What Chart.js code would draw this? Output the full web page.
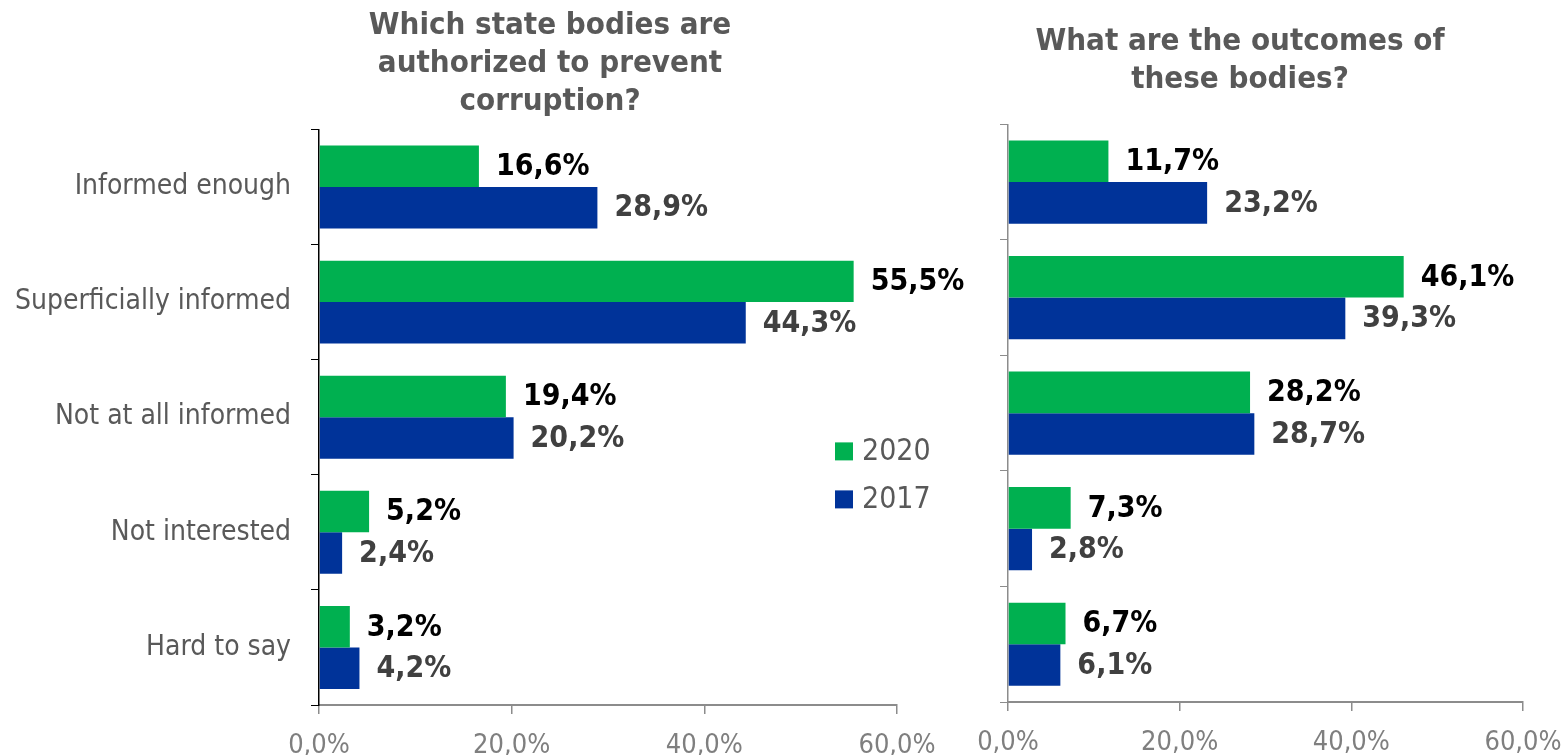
<!DOCTYPE html>
<html>
<head>
<meta charset="utf-8">
<script src="https://cdn.jsdelivr.net/npm/chart.js@4.4.1/dist/chart.umd.min.js"></script>
<style>
  body { margin: 0; background: #fff; width: 1564px; height: 755px; overflow: hidden; position: relative; }
  .box { position: absolute; top: 0; height: 755px; }
  #leftBox { left: 0; width: 1100px; }
  #rightBox { left: 920px; width: 660px; }
</style>
</head>
<body>
<div class="box" id="leftBox"><canvas id="leftChart"></canvas></div>
<div class="box" id="rightBox"><canvas id="rightChart"></canvas></div>
<script>
// survey answers, shares in %
const categories = ['Informed enough', 'Superficially informed', 'Not at all informed', 'Not interested', 'Hard to say'];
const seriesNames = ['2020', '2017'];
const bodies2020 = [16.6, 55.5, 19.4, 5.2, 3.2];
const bodies2017 = [28.9, 44.3, 20.2, 2.4, 4.2];
const outcomes2020 = [11.7, 46.1, 28.2, 7.3, 6.7];
const outcomes2017 = [23.2, 39.3, 28.7, 2.8, 6.1];
const xTicks = [0, 20, 40, 60];

const leftTitle = ['Which state bodies are', 'authorized to prevent', 'corruption?'];
const rightTitle = ['What are the outcomes of', 'these bodies?'];

const FONT = "'DejaVu Sans Condensed', 'DejaVu Sans', sans-serif";
const GREEN = '#00b050';
const BLUE = '#003399';
const labelColors = ['#000000', '#404040'];

const pct = v => v.toFixed(1).replace('.', ',') + '%';

// value text at the end of every bar
const barLabels = {
  id: 'barLabels',
  afterDatasetsDraw(chart) {
    const ctx = chart.ctx;
    ctx.save();
    ctx.font = 'bold 30px ' + FONT;
    ctx.textAlign = 'left';
    ctx.textBaseline = 'middle';
    chart.data.datasets.forEach((ds, i) => {
      ctx.fillStyle = labelColors[i];
      chart.getDatasetMeta(i).data.forEach((bar, j) => {
        ctx.fillText(pct(ds.data[j]), bar.x + 17, bar.y + 1);
      });
    });
    ctx.restore();
  }
};

// legend placed inside the plot area
const innerLegend = {
  id: 'innerLegend',
  afterDraw(chart, args, opts) {
    if (!opts.show) return;
    const ctx = chart.ctx;
    const a = chart.chartArea;
    ctx.save();
    ctx.font = '30px ' + FONT;
    ctx.textBaseline = 'middle';
    chart.data.datasets.forEach((ds, i) => {
      const x = a.left + opts.x;
      const y = a.top + opts.y + i * opts.gap;
      ctx.fillStyle = ds.backgroundColor;
      ctx.fillRect(x, y - 9, 18, 18);
      ctx.fillStyle = '#595959';
      ctx.fillText(ds.label, x + 27, y + 1);
    });
    ctx.restore();
  }
};

// widen the title box so the heading centres over its own span
const titleSpan = {
  id: 'titleSpan',
  afterLayout(chart, args, opts) {
    const t = chart.titleBlock;
    if (t && opts.right) {
      t.left = opts.left;
      t.right = opts.right;
    }
  }
};

function makeChart(id, d2020, d2017, title, o) {
  return new Chart(document.getElementById(id), {
    type: 'bar',
    data: {
      labels: categories,
      datasets: [
        { label: seriesNames[0], data: d2020, backgroundColor: GREEN },
        { label: seriesNames[1], data: d2017, backgroundColor: BLUE }
      ]
    },
    options: {
      indexAxis: 'y',
      responsive: true,
      maintainAspectRatio: false,
      animation: false,
      categoryPercentage: 0.72,
      barPercentage: 1.0,
      layout: { padding: { left: 0, right: o.padRight, top: 0, bottom: 0 } },
      plugins: {
        legend: { display: false },
        tooltip: { enabled: false },
        title: {
          display: true,
          text: title,
          color: '#595959',
          font: { family: FONT, size: 31, weight: 'bold', lineHeight: 1.23 },
          padding: o.titlePad
        },
        titleSpan: o.titleSpan,
        innerLegend: o.legend
      },
      scales: {
        x: {
          min: 0,
          max: 60,
          afterBuildTicks: s => { s.ticks = xTicks.map(v => ({ value: v })); },
          afterFit: s => { s.height = o.xHeight; },
          border: { color: '#8c8c8c', width: 2 },
          grid: { drawOnChartArea: false, color: '#8c8c8c', tickLength: 9, lineWidth: 1.5 },
          ticks: {
            color: '#7f7f7f',
            padding: 16,
            font: { family: FONT, size: 27 },
            callback: v => pct(v)
          }
        },
        y: {
          afterFit: s => { s.width = o.yWidth; },
          border: { color: o.axisColor, width: 1.5 },
          grid: { offset: true, drawOnChartArea: false, color: o.axisColor, tickLength: 8 },
          ticks: {
            display: o.showCats,
            color: '#595959',
            padding: 20,
            font: { family: FONT, size: 28 }
          }
        }
      }
    },
    plugins: [barLabels, innerLegend, titleSpan]
  });
}

makeChart('leftChart', bodies2020, bodies2017, leftTitle, {
  padRight: 203,
  yWidth: 319,
  xHeight: 50,
  axisColor: '#000000',
  showCats: true,
  titlePad: { top: 7, bottom: 8 },
  titleSpan: { left: 0, right: 1100 },
  legend: { show: true, x: 516, y: 322, gap: 48 }
});

makeChart('rightChart', outcomes2020, outcomes2017, rightTitle, {
  padRight: 57,
  yWidth: 88,
  xHeight: 53,
  axisColor: '#8c8c8c',
  showCats: false,
  titlePad: { top: 23, bottom: 25 },
  titleSpan: { left: 0, right: 640 },
  legend: { show: false }
});
</script>
</body>
</html>
